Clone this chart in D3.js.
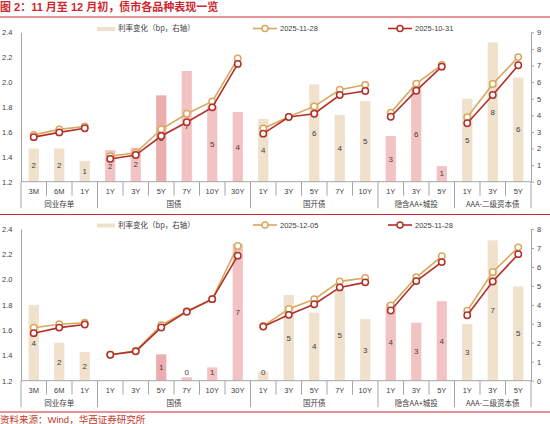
<!DOCTYPE html>
<html><head><meta charset="utf-8">
<script src="https://cdn.jsdelivr.net/npm/d3@7"></script>
<style>body{margin:0;background:#fff}svg{display:block}</style>
</head><body><svg id="c" width="550" height="424"></svg>
<script>
// ---------- data ----------
const titleText = "图 2：11 月至 12 月初，债市各品种表现一览";
const sourceText = "资料来源：Wind，华西证券研究所";
const barLegend = "利率变化（bp，右轴）";
const groups = ["同业存单", "国债", "国开债", "隐含AA+城投", "AAA-二级资本债"];
const groupTenors = [["3M","6M","1Y"], ["1Y","3Y","5Y","7Y","10Y","30Y"], ["1Y","3Y","5Y","7Y","10Y"], ["1Y","3Y","5Y"], ["1Y","3Y","5Y"]];
const leftTicks = [1.2, 1.4, 1.6, 1.8, 2.0, 2.2, 2.4];
const rightTicksTop = [0,1,2,3,4,5,6,7,8,9];
const rightTicksBottom = [0,1,2,3,4,5,6,7,8];

const datesTop = ["2025-11-28", "2025-10-31"];
const yields1128 = [1.576,1.620,1.644, 1.405,1.432,1.621,1.746,1.845,2.189, 1.628,1.721,1.805,1.938,1.978, 1.755,1.988,2.138, 1.718,1.985,2.201];
const yields1031 = [1.558,1.596,1.629, 1.383,1.414,1.567,1.677,1.797,2.146, 1.586,1.720,1.746,1.896,1.929, 1.722,1.931,2.124, 1.669,1.896,2.135];
const bpTop = [2.0,2.0,1.25, 1.9,2.05,5.2,6.67,4.56,4.2, 3.78,-0.1,5.86,4.02,4.86, 2.75,5.72,0.94, 5.0,8.39,6.27];

const datesBottom = ["2025-12-05", "2025-11-28"];
const yields1205 = [1.619,1.646,1.659, 1.405,1.437,1.640,1.749,1.846,2.266, 1.634,1.767,1.844,1.986,2.012, 1.796,2.018,2.184, 1.754,2.060,2.255];
const bpBottom = [4.0,2.0,1.51, -0.3,-0.2,1.39,0.18,0.7,7.22, 0.49,4.52,3.59,4.76,3.25, 4.07,3.06,4.19, 2.99,7.4,4.97];

// ---------- style ----------
const RED = "#D0262E", GOLD = "#D8A85E", DARK = "#B23028";
const BEIGE = "#EFE1CB", PINK = "#F3C3C3", PINK_HI = "#EBADAD";
const pinkGroups = new Set(["国债", "隐含AA+城投"]);
const LATIN = "'Liberation Sans', Arial, 'Noto Sans CJK SC', sans-serif";
const CJK = "'Noto Sans CJK SC', sans-serif";
const AXIS = "#A6A6A6", TXT = "#404040";

const svg = d3.select("#c");
const cats = groupTenors.flatMap((t, gi) => t.map(n => ({ g: gi, name: n })));
const X0 = 21, X1 = 531;
const x = d3.scaleBand().domain(d3.range(cats.length)).range([X0, X1]).paddingInner(0.6).paddingOuter(0.3);
const step = x.step();
const cx = i => x(i) + x.bandwidth() / 2;

// title & frame lines
svg.append("text").attr("x", 0).attr("y", 11).attr("fill", RED)
  .style("font-family", LATIN).style("font-size", "11px").style("font-weight", "bold").text(titleText);
[17, 214.5, 412].forEach(yy => svg.append("line").attr("x1", 0).attr("x2", 550).attr("y1", yy).attr("y2", yy)
  .attr("stroke", RED).attr("stroke-width", 1));
svg.append("text").attr("x", 0).attr("y", 422.5).attr("fill", "#C0392B")
  .style("font-family", LATIN).style("font-size", "9.5px").text(sourceText);

function panel(o) {
  const g = svg.append("g");
  const yL = d3.scaleLinear().domain([1.2, 2.4]).range([o.bottom, o.top]);
  const yR = d3.scaleLinear().domain([0, o.rMax]).range([o.bottom, o.top]);

  // bars
  cats.forEach((c, i) => {
    const v = o.bp[i];
    if (v <= 0) return;
    const grp = groups[c.g];
    let col = pinkGroups.has(grp) ? PINK : BEIGE;
    if (grp === "国债" && c.name === "5Y") col = PINK_HI;
    g.append("rect").attr("x", x(i)).attr("width", x.bandwidth())
      .attr("y", yR(v)).attr("height", yR(0) - yR(v)).attr("fill", col);
  });
  // bar labels
  cats.forEach((c, i) => {
    const v = o.bp[i];
    if (v <= 0) return;
    const mid = (yR(v) + yR(0)) / 2;
    const ly = Math.min(mid, yR(0) - 8.5);
    g.append("text").attr("x", cx(i)).attr("y", ly).attr("dy", "0.35em").attr("text-anchor", "middle")
      .attr("fill", TXT).style("font-family", LATIN).style("font-size", "8px").text(d3.format(".0f")(v));
  });

  // axes
  const la = g.append("g").attr("transform", `translate(${X0},0)`)
    .call(d3.axisLeft(yL).tickValues(leftTicks).tickSize(0).tickPadding(8.5).tickFormat(d3.format(".1f")));
  const ra = g.append("g").attr("transform", `translate(${X1},0)`)
    .call(d3.axisRight(yR).tickValues(o.rTicks).tickSize(3).tickSizeOuter(0).tickPadding(3));
  [la, ra].forEach(a => {
    a.select(".domain").attr("stroke", AXIS);
    a.selectAll(".tick line").attr("stroke", AXIS);
    a.selectAll("text").attr("fill", TXT).style("font-family", LATIN).style("font-size", "7.5px");
  });

  // category axis
  g.append("line").attr("x1", X0).attr("x2", X1).attr("y1", o.bottom).attr("y2", o.bottom).attr("stroke", AXIS);
  let start = 0;
  const bounds = [0];
  groupTenors.forEach(t => { start += t.length; bounds.push(start); });
  d3.range(cats.length + 1).forEach(k => {
    const isG = bounds.includes(k);
    const xx = X0 + k * step;
    g.append("line").attr("x1", xx).attr("x2", xx).attr("y1", o.bottom)
      .attr("y2", isG ? o.bottom + 26.5 : o.bottom + 14).attr("stroke", AXIS);
  });
  cats.forEach((c, i) => {
    g.append("text").attr("x", cx(i)).attr("y", o.bottom + 10).attr("dy", "0.35em").attr("text-anchor", "middle")
      .attr("fill", TXT).style("font-family", LATIN).style("font-size", "7.5px").text(c.name);
  });
  groups.forEach((name, gi) => {
    const xm = X0 + (bounds[gi] + bounds[gi + 1]) / 2 * step;
    g.append("text").attr("x", xm).attr("y", o.bottom + 22.5).attr("dy", "0.35em").attr("text-anchor", "middle")
      .attr("fill", TXT).style("font-family", CJK).style("font-size", "7.5px").text(name);
  });

  // lines
  const series = [{ v: o.newV, c: GOLD }, { v: o.oldV, c: DARK }];
  series.forEach(s => {
    const ln = d3.line().x(i => cx(i)).y(i => yL(s.v[i]));
    groups.forEach((gname, gi) => {
      const idx = d3.range(bounds[gi], bounds[gi + 1]);
      g.append("path").attr("d", ln(idx)).attr("fill", "none").attr("stroke", s.c).attr("stroke-width", 1.6);
    });
    cats.forEach((c, i) => {
      g.append("circle").attr("cx", cx(i)).attr("cy", yL(s.v[i])).attr("r", 3.2)
        .attr("fill", "#fff").attr("stroke", s.c).attr("stroke-width", 1.5);
    });
  });

  // legend
  const ly = o.legendY;
  g.append("rect").attr("x", 97).attr("y", ly - 1.5).attr("width", 18).attr("height", 4).attr("fill", BEIGE);
  g.append("text").attr("x", 118).attr("y", ly).attr("dy", "0.35em").attr("fill", TXT)
    .style("font-family", CJK).style("font-size", "7.5px").text(barLegend);
  [{ x: 253, c: GOLD, t: o.dates[0] }, { x: 388, c: DARK, t: o.dates[1] }].forEach(L => {
    g.append("line").attr("x1", L.x).attr("x2", L.x + 24).attr("y1", ly).attr("y2", ly).attr("stroke", L.c).attr("stroke-width", 1.6);
    g.append("circle").attr("cx", L.x + 12).attr("cy", ly).attr("r", 3).attr("fill", "#fff").attr("stroke", L.c).attr("stroke-width", 1.5);
    g.append("text").attr("x", L.x + 27).attr("y", ly).attr("dy", "0.35em").attr("fill", TXT)
      .style("font-family", LATIN).style("font-size", "7.5px").text(L.t);
  });
}

panel({ top: 32.3, bottom: 181.7, rMax: 9, rTicks: rightTicksTop, newV: yields1128, oldV: yields1031, bp: bpTop, dates: datesTop, legendY: 28.5 });
panel({ top: 229, bottom: 380.7, rMax: 8, rTicks: rightTicksBottom, newV: yields1205, oldV: yields1128, bp: bpBottom, dates: datesBottom, legendY: 225 });
</script></body></html>
